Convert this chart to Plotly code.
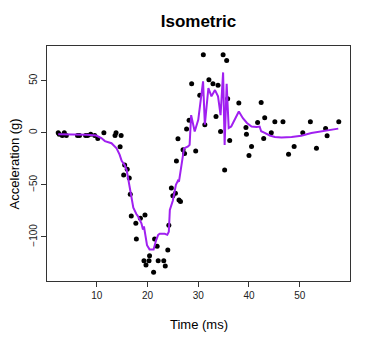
import plotly.graph_objects as go

times = [2.4, 2.6, 3.2, 3.6, 4.0, 6.2, 6.6, 7.8, 8.2, 8.8, 9.6, 10.2, 11.4, 13.6,
         13.8, 14.8, 14.6, 15.5, 16.0, 15.3, 16.4, 16.6, 16.8, 17.7, 18.6, 19.5,
         17.8, 19.3, 19.7, 20.3, 20.4, 21.2, 21.4, 21.9, 22.1, 23.2, 23.5, 24.0,
         24.2, 24.7, 25.0, 25.5, 26.2, 26.5, 25.7, 26.0, 27.0, 27.3, 27.7, 28.2,
         28.7, 29.5, 30.3, 31.0, 31.3, 32.1, 32.9, 33.9, 33.5, 34.4, 34.9, 35.6,
         35.8, 35.2, 36.2, 38.0, 39.4, 39.5, 40.5, 40.0, 41.7, 42.4, 43.1, 42.9,
         44.4, 45.1, 46.7, 47.8, 48.9, 50.6, 52.1, 53.3, 55.1, 55.4, 57.7]
accel = [0.0, -1.3, -2.7, 0.0, -2.7, -2.7, -2.7, -2.7, -2.7, -1.3, -2.7, -5.4, 0.0,
         -2.7, 0.0, -2.7, -13.3, -31.0, -35.0, -40.5, -43.5, -59.0, -80.0, -87.0,
         -82.0, -79.0, -102.0, -123.0, -127.0, -123.0, -118.0, -134.0, -102.0,
         -109.0, -123.0, -123.0, -128.0, -112.5, -88.7, -53.0, -60.5, -58.0, -64.6,
         -66.0, -27.0, -5.8, -16.4, -20.0, 3.6, 12.0, 47.0, -17.4, 36.0, 75.0, 7.7,
         51.0, 47.0, 45.6, 15.7, 1.3, 75.0, 69.4, 32.8, -35.7, -7.4, 28.6, 5.1, -1.3,
         -13.2, -21.9, 10.0, 29.2, 14.5, -5.5, 0.0, 10.5, 10.5, -20.5, -13.2, 0.0,
         10.5, -14.8, 4.2, -2.9, 10.5]

# fitted curve
fit_time = [2.4, 5.0, 8.0, 9.9, 10.9, 11.6, 12.9, 13.9, 14.5, 14.9, 15.5, 15.9, 16.2,
            16.5, 16.8, 17.2, 17.8, 18.1, 18.8, 19.1, 19.3, 19.7, 19.9, 20.4, 21.2,
            21.7, 22.1, 22.4, 23.4, 23.9, 24.2, 24.4, 25.0, 25.6, 26.0, 26.2, 26.5,
            27.0, 27.2, 28.0, 28.3, 28.6, 29.3, 30.0, 30.95, 31.3, 32.0, 32.6, 33.3,
            33.9, 34.4, 34.9, 35.2, 35.6, 36.0, 36.5, 38.0, 38.8, 39.6, 40.5, 41.5,
            42.1, 42.4, 43.1, 44.1, 45.1, 46.4, 48.4, 50.3, 52.3, 54.3, 56.2, 57.6]
fit_accel = [-1.5, -1.5, -2.0, -2.6, -5.0, -8.0, -10.0, -15.0, -21.0, -27.0, -31.0,
             -36.0, -45.0, -55.0, -64.0, -72.0, -78.0, -80.0, -87.0, -93.0, -90.0,
             -101.0, -108.0, -112.0, -112.0, -103.0, -98.0, -97.0, -97.0, -98.0, -95.0,
             -74.0, -65.0, -50.0, -46.0, -47.0, -37.0, -22.0, -15.0, -13.0, -11.6,
             17.0, 1.3, 12.5, 49.5, 7.7, 43.0, 35.0, 41.0, 35.0, 17.0, 58.0, -11.6,
             47.0, 4.5, 6.0, 20.5, 14.0, 9.4, 6.0, 5.5, 6.0, 1.5, 0.0, -2.6, -4.0,
             -4.5, -4.1, -2.9, -0.3, 1.3, 2.9, 4.0]

x_ticks = [10, 20, 30, 40, 50]
y_ticks = [-100, -50, 0, 50]

font = "Liberation Sans, Arial, sans-serif"

fig = go.Figure()
fig.add_trace(go.Scatter(
    x=times, y=accel, mode="markers",
    marker=dict(color="black", size=5),
    showlegend=False,
))
fig.add_trace(go.Scatter(
    x=fit_time, y=fit_accel, mode="lines",
    line=dict(color="#A020F0", width=2),
    showlegend=False,
))

# R-style 4% padding around the data
x_pad = (max(times) - min(times)) * 0.04
y_pad = (max(accel) - min(accel)) * 0.04

# page body adds 8px margin, so the figure is 8px smaller than the window
fig.update_layout(
    width=366,
    height=332,
    plot_bgcolor="white",
    paper_bgcolor="white",
    font=dict(family=font, color="black"),
    margin=dict(l=39, r=24, t=38, b=59),
    title=dict(
        text="<b>Isometric</b>", xref="paper", x=0.5, xanchor="center",
        yref="container", y=0.962, yanchor="middle",
        font=dict(size=17),
    ),
    annotations=[
        dict(text="Time (ms)", xref="paper", yref="paper", x=0.5, y=-0.187,
             xanchor="center", yanchor="middle", showarrow=False,
             font=dict(size=13)),
        dict(text="Acceleration (g)", xref="paper", yref="paper", x=-0.106, y=0.5,
             xanchor="center", yanchor="middle", showarrow=False, textangle=-90,
             font=dict(size=13)),
    ],
)
fig.update_xaxes(
    range=[min(times) - x_pad, max(times) + x_pad],
    tickvals=x_ticks,
    ticks="outside", ticklen=5, tickcolor="#333",
    tickfont=dict(size=10, color="#222"),
    showline=True, linecolor="#333", linewidth=1, mirror=True,
    showgrid=False, zeroline=False, automargin=False,
)
fig.update_yaxes(
    range=[min(accel) - y_pad, max(accel) + y_pad],
    tickvals=y_ticks,
    tickangle=-90,
    ticks="outside", ticklen=5, tickcolor="#333",
    tickfont=dict(size=10, color="#222"),
    showline=True, linecolor="#333", linewidth=1, mirror=True,
    showgrid=False, zeroline=False, automargin=False,
)

fig.write_html("out.html")
